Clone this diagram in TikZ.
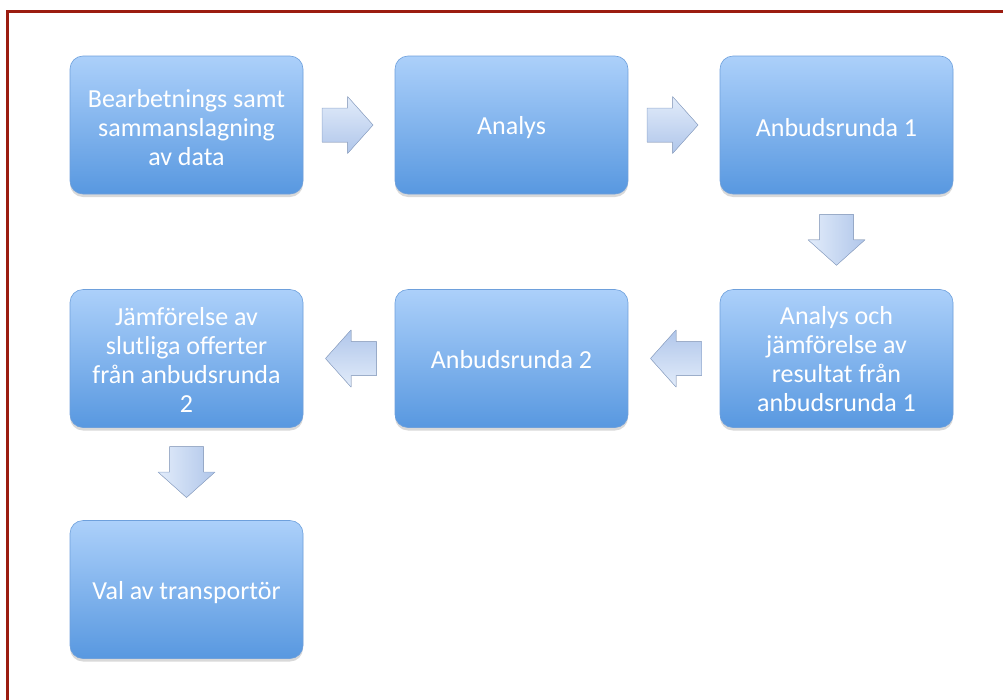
\documentclass[tikz,border=0pt]{standalone}
\usepackage{fontspec}
\setmainfont{Carlito}
\usetikzlibrary{shadows,calc}

\definecolor{boxtop}{RGB}{172,208,250}
\definecolor{boxbot}{RGB}{88,152,224}
\definecolor{boxedge}{RGB}{110,160,220}
\definecolor{framered}{RGB}{155,28,16}
\definecolor{arrtop}{RGB}{226,236,250}
\definecolor{arrbot}{RGB}{176,198,234}
\definecolor{arredge}{RGB}{150,172,208}

\tikzset{
  stepbox/.style={rectangle, rounded corners=13pt,
    minimum width=233pt, minimum height=138pt,
    top color=boxtop, bottom color=boxbot,
    draw=boxedge, line width=0.6pt,
    drop shadow={shadow xshift=0pt, shadow yshift=-3pt, opacity=0.3}},
  steptext/.style={text=white, align=center, inner sep=0pt,
    font=\fontsize{26}{29}\selectfont},
  % block arrow pointing right; the argument turns the shading back upright
  blockarr/.pic={
    \filldraw[top color=arrtop, bottom color=arrbot, shading angle=#1,
      draw=arredge, line width=0.5pt, line join=round]
      (-25.5,-17) -- (0,-17) -- (0,-28.5) -- (25.5,0)
      -- (0,28.5) -- (0,17) -- (-25.5,17) -- cycle;
  }
}

\begin{document}
\begin{tikzpicture}[x=1pt, y=-1pt]
  \useasboundingbox (0,0) rectangle (1003,699);
  \begin{scope}
    \clip (0,0) rectangle (1003,699);
    \draw[framered, line width=2.6pt] (7.5,730) -- (7.5,11.5) -- (1030,11.5);
  \end{scope}

  % process steps
  \node[stepbox] (b1) at (186.5,125) {};
  \node[stepbox] (b2) at (511.5,125) {};
  \node[stepbox] (b3) at (836.5,125) {};
  \node[stepbox] (b4) at (836.5,358.5) {};
  \node[stepbox] (b5) at (511.5,358.5) {};
  \node[stepbox] (b6) at (186.5,358.5) {};
  \node[stepbox] (b7) at (186.5,589.5) {};

  % step captions
  \node[steptext] (t1) at ([yshift=-3pt]b1.center) {Bearbetnings samt\\sammanslagning\\av data};
  \node[steptext] (t2) at ([yshift=-3pt]b2.center) {Analys};
  \node[steptext] (t3) at ([yshift=-3pt]b3.center) {Anbudsrunda 1};
  \node[steptext] (t4) at ([yshift=-1pt]b4.center) {Analys och\\jämförelse av\\resultat från\\anbudsrunda 1};
  \node[steptext] (t5) at ([yshift=-1pt]b5.center) {Anbudsrunda 2};
  \node[steptext] (t6) at ([yshift=-1pt]b6.center) {Jämförelse av\\slutliga offerter\\från anbudsrunda\\2};
  \node[steptext] (t7) at ([yshift=-3pt]b7.center) {Val av transportör};

  % block arrows between the steps
  \pic at ($(b1.east)!0.5!(b2.west)+(-1.5,0)$) {blockarr=0};
  \pic at ($(b2.east)!0.5!(b3.west)+(-1.5,0)$) {blockarr=0};
  \pic[rotate=-90] at ($(b3.south)!0.5!(b4.north)+(0,-2)$) {blockarr=90};
  \pic[rotate=180] at ($(b4.west)!0.5!(b5.east)+(2,0)$) {blockarr=-180};
  \pic[rotate=180] at ($(b5.west)!0.5!(b6.east)+(2,0)$) {blockarr=-180};
  \pic[rotate=-90] at ($(b6.south)!0.5!(b7.north)+(0,-2)$) {blockarr=90};
\end{tikzpicture}
\end{document}
